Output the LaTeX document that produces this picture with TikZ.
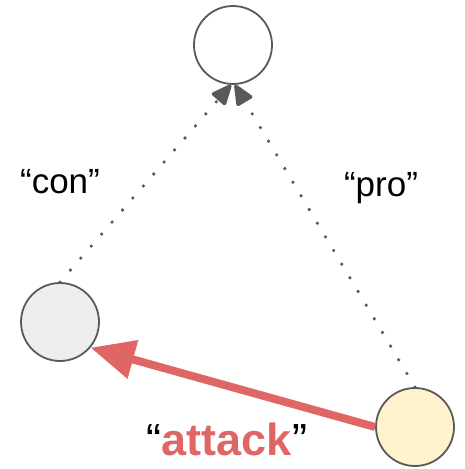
\documentclass[tikz,border=0pt]{standalone}
\usepackage{fontspec}
\setmainfont{Liberation Sans}
\usetikzlibrary{arrows.meta}
\definecolor{redc}{HTML}{E06666}
\definecolor{edgec}{HTML}{595959}
\definecolor{greyfill}{HTML}{EEEEEE}
\definecolor{yellowfill}{HTML}{FFF2CC}
\begin{document}
\begin{tikzpicture}[x=1pt,y=-1pt,
  circ/.style={circle,draw=edgec,line width=1.8pt,minimum size=78pt,inner sep=0pt},
  dotline/.style={draw=edgec,line width=3.6pt,dash pattern=on 0pt off 15.9pt,line cap=round,
    -{Triangle[length=23pt,width=19pt,line cap=butt,round=false]}},
  lbl/.style={font=\fontsize{35}{40}\selectfont,anchor=base}
]
\useasboundingbox (0,0) rectangle (464,469);
\node[circ,fill=white] (top) at (233,45) {};
\node[circ,fill=greyfill] (left) at (60,322) {};
\node[circ,fill=yellowfill] (right) at (415,427) {};
\draw[dotline] (left.north) -- ([xshift=-2pt]top.south);
\draw[dotline] (right.north) -- ([xshift=2pt]top.south);
\draw[redc,line width=8pt,-{Triangle[length=44pt,width=38pt]}] (right.west) -- (left.-40);
\node[lbl] (con) at (60,193) {“con”};
\node[lbl] (pro) at (381,196) {“pro”};
\node[font=\fontsize{45}{50}\selectfont,anchor=base] (att) at (227,455) {“\textcolor{redc}{\textbf{attack}}”};
\end{tikzpicture}
\end{document}
